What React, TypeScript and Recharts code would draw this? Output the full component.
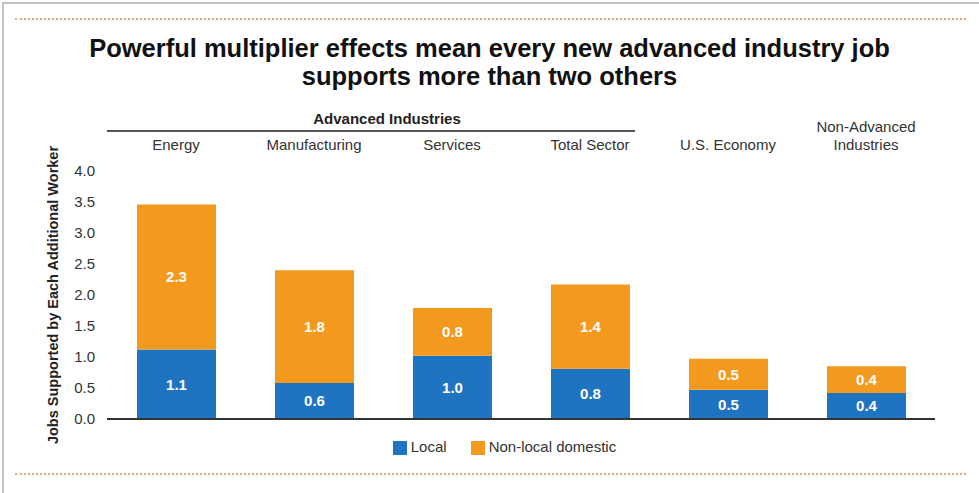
import React from 'react';
import { BarChart, Bar, XAxis, YAxis, ReferenceLine, Legend, LabelList, Label } from 'recharts';

// values (jobs supported per additional worker)
const categories = ['Energy', 'Manufacturing', 'Services', 'Total Sector', 'U.S. Economy', 'Non-Advanced\nIndustries'];
const localJobs = [1.12, 0.58, 1.02, 0.81, 0.47, 0.42];
const nonLocalJobs = [2.34, 1.82, 0.77, 1.36, 0.5, 0.43];
const yTicks = [0, 0.5, 1, 1.5, 2, 2.5, 3, 3.5, 4];

const BLUE = '#1f74c1';
const ORANGE = '#f39a1e';
const FONT = '"Liberation Sans", Arial, sans-serif';

const data = categories.map((name, i) => ({
  name,
  local: localJobs[i],
  nonLocal: nonLocalJobs[i],
}));

const CategoryTick = (props: any) => {
  const { x, y, payload } = props;
  const lines = String(payload.value).split('\n');
  return (
    <g>
      {lines.map((line, i) => (
        <text
          key={i}
          x={x}
          y={y - (lines.length - 1 - i) * 18}
          dy={-13}
          textAnchor="middle"
          fontSize={15}
          fill="#333"
          fontFamily={FONT}
        >
          {line}
        </text>
      ))}
    </g>
  );
};

const YLabel = (props: any) => {
  const vb = props.viewBox || {};
  const cx = 53;
  const cy = vb.y + vb.height / 2;
  return (
    <text
      x={cx}
      y={cy}
      transform={`rotate(-90, ${cx}, ${cy})`}
      textAnchor="middle"
      dominantBaseline="central"
      fontSize={14.5}
      fontWeight="bold"
      fill="#222"
      fontFamily={FONT}
    >
      Jobs Supported by Each Additional Worker
    </text>
  );
};

const legendText = (value: string) => (
  <span style={{ color: '#333', fontSize: 15, fontFamily: FONT, marginRight: 14 }}>{value}</span>
);

export default function App() {
  return (
    <div style={{ position: 'absolute', left: 0, top: 0, width: 979, height: 493, background: '#fff', fontFamily: FONT }}>
      {/* frame and dotted rules */}
      <div style={{ position: 'absolute', left: 2, top: 2, right: 0, bottom: 0, borderLeft: '2px solid #c4c4c4', borderTop: '2px solid #c4c4c4' }} />
      <div style={{ position: 'absolute', left: 15, top: 18, width: 951, borderTop: '2px dotted #e4a777' }} />
      <div style={{ position: 'absolute', left: 15, top: 473, width: 951, borderTop: '2px dotted #e4a777' }} />

      <div style={{ position: 'absolute', left: 0, top: 34, width: 979, textAlign: 'center', fontSize: 25.5, lineHeight: '28px', fontWeight: 'bold', color: '#111' }}>
        Powerful multiplier effects mean every new advanced industry job
        <br />
        supports more than two others
      </div>

      <div style={{ position: 'absolute', left: 287, top: 110, width: 200, textAlign: 'center', fontSize: 15, fontWeight: 'bold', color: '#222' }}>
        Advanced Industries
      </div>
      <div style={{ position: 'absolute', left: 107, top: 130, width: 528, height: 2, background: '#555' }} />

      <div style={{ position: 'absolute', left: 0, top: 0 }}>
        <BarChart
          width={979}
          height={493}
          data={data}
          margin={{ top: 141, right: 44, bottom: 56, left: 0 }}
          barSize={79}
        >
          <XAxis
            dataKey="name"
            orientation="top"
            height={30}
            axisLine={false}
            tickLine={false}
            interval={0}
            tick={<CategoryTick />}
          />
          <YAxis
            width={107}
            domain={[0, 4]}
            ticks={yTicks}
            axisLine={false}
            tickLine={false}
            tickMargin={6}
            tickFormatter={(v: number) => v.toFixed(1)}
            tick={{ fontSize: 15, fill: '#333', fontFamily: FONT }}
          >
            <Label content={<YLabel />} />
          </YAxis>
          <Legend
            verticalAlign="bottom"
            iconType="square"
            iconSize={14}
            formatter={legendText}
            wrapperStyle={{ top: 438, left: 54, width: 925 }}
          />
          <Bar dataKey="local" name="Local" stackId="a" fill={BLUE} isAnimationActive={false}>
            <LabelList
              dataKey="local"
              position="center"
              formatter={(v: number) => v.toFixed(1)}
              fill="#fff"
              fontSize={15}
              fontWeight="bold"
              fontFamily={FONT}
            />
          </Bar>
          <Bar dataKey="nonLocal" name="Non-local domestic" stackId="a" fill={ORANGE} isAnimationActive={false}>
            <LabelList
              dataKey="nonLocal"
              position="center"
              formatter={(v: number) => v.toFixed(1)}
              fill="#fff"
              fontSize={15}
              fontWeight="bold"
              fontFamily={FONT}
            />
          </Bar>
          <ReferenceLine y={0} stroke="#333" strokeWidth={2} />
        </BarChart>
      </div>
    </div>
  );
}
